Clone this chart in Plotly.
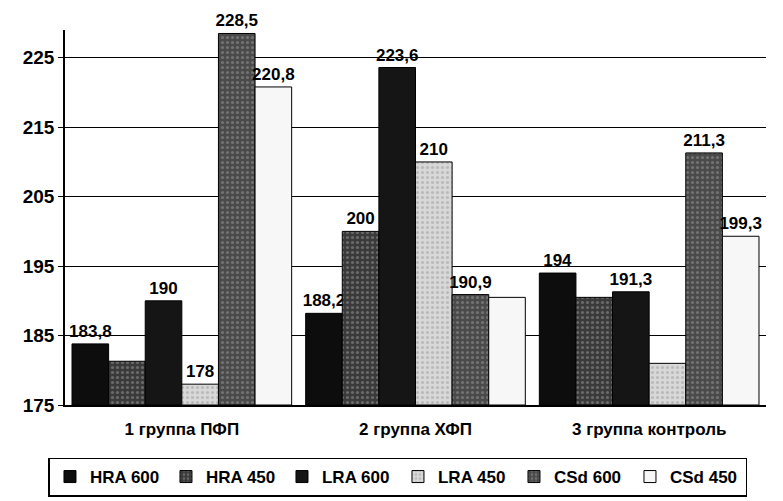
import plotly.graph_objects as go

categories = ["1 группа ПФП", "2 группа ХФП", "3 группа контроль"]
series_names = ["HRA 600", "HRA 450", "LRA 600", "LRA 450", "CSd 600", "CSd 450"]
hra600 = [183.8, 188.2, 194.0]
hra450 = [181.3, 200.0, 190.5]
lra600 = [190.0, 223.6, 191.3]
lra450 = [178.0, 210.0, 181.0]
csd600 = [228.5, 190.9, 211.3]
csd450 = [220.8, 190.5, 199.3]
values = [hra600, hra450, lra600, lra450, csd600, csd450]
# which labels are visible in the reference
show_label = [
    [True, True, True],
    [False, True, False],
    [True, True, True],
    [True, True, False],
    [True, True, True],
    [True, False, True],
]
colors = ["#0d0d0d", "#3a3a3a", "#151515", "#d8d8d8", "#4a4a4a", "#f7f7f7"]
patterns = ["", ".", "", ".", ".", ""]
tick_vals = [175, 185, 195, 205, 215, 225]

def fmt(v):
    s = ("%.1f" % v).rstrip("0").rstrip(".")
    return s.replace(".", ",")

fig = go.Figure()
for name, vals, col, pat, show in zip(series_names, values, colors, patterns, show_label):
    fig.add_trace(go.Bar(
        x=categories, y=[v - 175 for v in vals], base=175, name=name,
        marker=dict(color=col, line=dict(color="#000000", width=1),
                    pattern=dict(shape=pat, fgcolor="#9a9a9a", bgcolor=col, size=5, solidity=0.3) if pat else None),
        text=[fmt(v) if s else "" for v, s in zip(vals, show)],
        textposition="outside", cliponaxis=False, constraintext="none",
        textfont=dict(family="Liberation Sans", size=17, color="#000000", weight="bold"),
    ))

fig.update_layout(
    width=783, height=501,
    barmode="group", bargap=0.06, bargroupgap=0.0,
    plot_bgcolor="white", paper_bgcolor="white",
    margin=dict(l=57, r=25, t=22, b=99),
    font=dict(family="Liberation Sans", size=16, color="#000000", weight="bold"),
    xaxis=dict(showline=True, linecolor="#000000", linewidth=1.5, ticks="",
               tickfont=dict(size=17, weight="bold"), ticklabelstandoff=8),
    yaxis=dict(range=[175, 229], tickvals=tick_vals, showline=True, linecolor="#000000",
               linewidth=1.5, ticks="outside", ticklen=5, tickcolor="#000000",
               showgrid=True, gridcolor="#000000", gridwidth=1, zeroline=False,
               tickfont=dict(size=19, weight="bold")),
    legend=dict(orientation="h", x=0.475, xanchor="center", y=-0.14, yanchor="top",
                bordercolor="#000000", borderwidth=1.5, font=dict(size=17, weight="bold"),
                itemwidth=30, entrywidth=71, entrywidthmode="pixels", traceorder="normal"),
    showlegend=True,
)
fig.write_html("out.html")
